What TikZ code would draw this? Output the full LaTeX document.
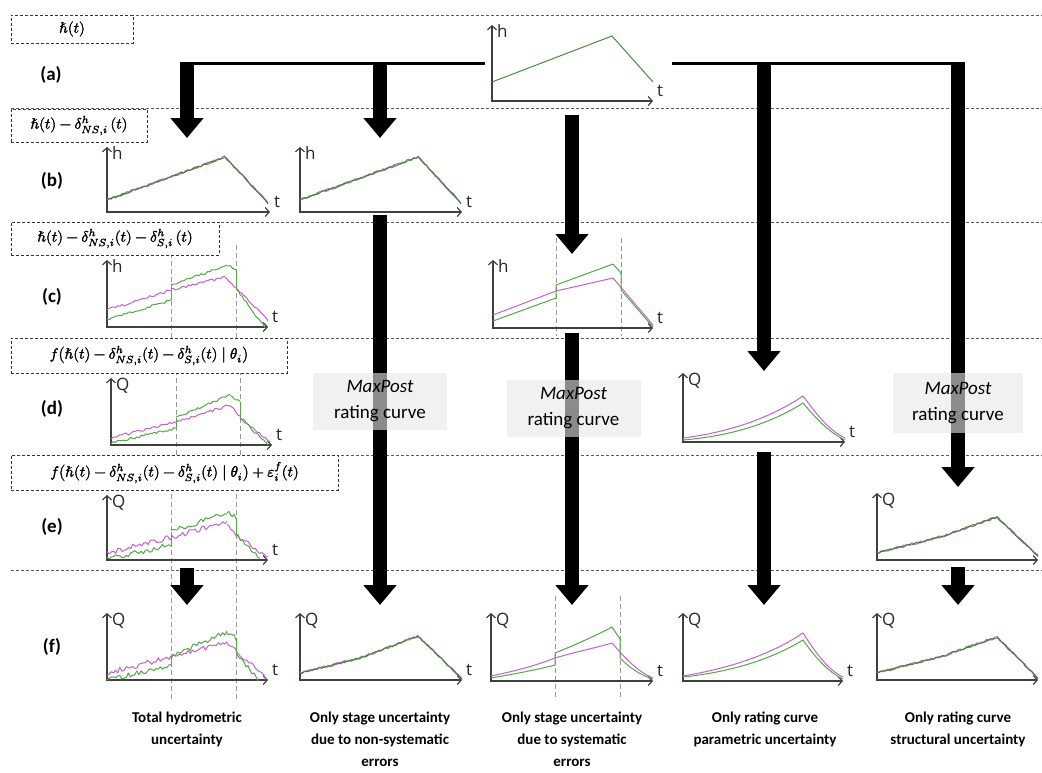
\documentclass[tikz,border=0pt]{standalone}
\usepackage{amsmath}
\usepackage{graphicx}
\usepackage{fontspec}
\usepackage{unicode-math}
\setmathfont{Latin Modern Math}
\setmathfont{Latin Modern Math}[version=heavy,FakeBold=2.2]
\usetikzlibrary{arrows.meta}
\newfontfamily\calfont{Carlito}
\newfontfamily\axfont{Open Sans}
\definecolor{cgreen}{RGB}{84,168,70}
\definecolor{cmag}{RGB}{198,96,204}
\definecolor{cdark}{RGB}{85,100,78}
\definecolor{agreen}{RGB}{72,140,60}
\definecolor{axcol}{RGB}{64,64,64}
\definecolor{sepcol}{RGB}{90,90,90}
\definecolor{vdcol}{RGB}{150,150,150}

\newcommand{\plotax}[6]{% name, ox, oy, topy, endx, ylabel
  \draw[axis] (#2,#4) -- (#2,#3) -- (#5,#3);
  \node[axlab] (#1y) at (#2+5,#4+12) {#6};
  \node[axlab] (#1t) at (#5+4,#3-5) {t};
}
\newcommand{\plotaxnt}[6]{% no t label
  \draw[axis] (#2,#4) -- (#2,#3) -- (#5,#3);
  \node[axlab] (#1y) at (#2+5,#4+12) {#6};
}
% noisy straight segment: x1 y1 x2 y2 amplitude style
\newcommand{\nseg}[6]{%
  \pgfmathtruncatemacro\nsmp{abs(#3-#1)/2.2+2}%
  \draw[#6] plot[domain=#1:#3,samples=\nsmp] (\x,{#2+(\x-#1)*(#4-#2)/(#3-#1)+#5*rand});}
% overlapping green/magenta noisy segment
\newcommand{\ovseg}[4]{%
  \nseg{#1}{#2}{#3}{#4}{1.2}{mS}\nseg{#1}{#2}{#3}{#4}{1.2}{gS}\nseg{#1}{#2}{#3}{#4}{0.9}{dS}}
\newcommand{\fml}[1]{\scalebox{1.5}{\mathversion{heavy}$#1$}}

\begin{document}
\begin{tikzpicture}[x=1pt,y=-1pt,
  sep/.style={draw=sepcol,line width=0.7pt,dash pattern=on 3pt off 2pt},
  vdash/.style={draw=vdcol,line width=1pt,dash pattern=on 5pt off 3pt},
  lbox/.style={draw=black!80,line width=0.7pt,dash pattern=on 3pt off 2pt,fill=white,inner sep=0pt},
  rowlab/.style={font=\calfont\bfseries\fontsize{19}{22}\selectfont},
  caplab/.style={font=\calfont\bfseries\fontsize{15}{22}\selectfont,align=center,anchor=north},
  axis/.style={draw=axcol,line width=1.2pt,{Straight Barb[length=4pt,width=9pt]}-{Straight Barb[length=4pt,width=9pt]}},
  axlab/.style={font=\axfont\fontsize{17}{17}\selectfont,anchor=base west,inner sep=0pt,text=black!85},
  gS/.style={draw=cgreen,line width=1pt,line join=round},
  mS/.style={draw=cmag,line width=1pt,line join=round},
  dS/.style={draw=cdark,line width=0.6pt,line join=round},
  bigarrow/.style={draw=black,line width=14pt,-{Triangle[length=20pt,width=32pt]}},
  mpbox/.style={fill=gray!17,fill opacity=0.6,text opacity=1,minimum width=134pt,minimum height=57pt,inner sep=0pt,align=center,font=\calfont\fontsize{19}{26}\selectfont}
]
\pgfmathsetseed{11}
\useasboundingbox (0,0) rectangle (1042,772);
\fill[white] (0,0) rectangle (1042,772);

% horizontal separators
\foreach \yy/\nm in {15/h0,108/h1,222/h2,338/h3,455/h4,570/h5}{
  \coordinate (\nm l) at (11,\yy); \coordinate (\nm r) at (1042,\yy);
  \draw[sep] (\nm l) -- (\nm r);}

% vertical dashed lines
\coordinate (v1a) at (171,245); \coordinate (v1b) at (171,338);
\coordinate (v2a) at (236,245); \coordinate (v2b) at (236,338);
\draw[vdash] (v1a) -- (v1b); \draw[vdash] (v2a) -- (v2b);
\coordinate (v3a) at (176,338); \coordinate (v3b) at (176,455);
\coordinate (v4a) at (240,338); \coordinate (v4b) at (240,455);
\draw[vdash] (v3a) -- (v3b); \draw[vdash] (v4a) -- (v4b);
\coordinate (v5a) at (171,462); \coordinate (v5b) at (171,700);
\coordinate (v6a) at (236,462); \coordinate (v6b) at (236,700);
\draw[vdash] (v5a) -- (v5b); \draw[vdash] (v6a) -- (v6b);
\coordinate (v7a) at (556,238); \coordinate (v7b) at (556,336);
\coordinate (v8a) at (621,238); \coordinate (v8b) at (621,336);
\draw[vdash] (v7a) -- (v7b); \draw[vdash] (v8a) -- (v8b);
\coordinate (v9a) at (555,596); \coordinate (v9b) at (555,700);
\coordinate (v10a) at (620,596); \coordinate (v10b) at (620,700);
\draw[vdash] (v9a) -- (v9b); \draw[vdash] (v10a) -- (v10b);

% ---- row a
\plotax{pa}{492}{101}{25}{653}{h}
\draw[agreen,line width=1pt] (492,82) -- (612,36) -- (653,82);

% ---- row b
\plotax{pb1}{107}{212}{147}{270}{h}
\ovseg{107}{200}{225}{157}\ovseg{225}{157}{268}{203}
\plotax{pb2}{300}{212}{147}{462}{h}
\ovseg{300}{200}{418}{157}\ovseg{418}{157}{461}{203}

% ---- row c
\plotax{pc1}{107}{327}{260}{268}{h}
\nseg{107}{310}{171}{290}{1.3}{mS}\nseg{171}{290}{225}{277}{1.3}{mS}
\nseg{225}{277}{236}{288}{1.3}{mS}\nseg{236}{288}{268}{320}{1.3}{mS}
\nseg{107}{320}{171}{300}{1.3}{gS}
\draw[gS] (171,300) -- (171,285);
\nseg{171}{285}{227}{265}{1.3}{gS}\nseg{227}{265}{236}{269}{1.3}{gS}
\draw[gS] (236,269) -- (236,288);
\nseg{236}{288}{265}{328}{1.3}{gS}

\plotax{pc3}{493}{328}{260}{653}{h}
\draw[mS] (493,315) -- (556,291) -- (613,278) -- (653,325);
\draw[gS] (493,321) -- (556,298) -- (556,285) -- (613,264) -- (621,273) -- (621,290) -- (653,327);

% ---- row d
\plotax{pd1}{111}{445}{378}{272}{Q}
\nseg{111}{438}{176}{422}{1.3}{mS}\nseg{176}{422}{230}{405}{1.3}{mS}
\nseg{230}{405}{240}{417}{1.3}{mS}\nseg{240}{417}{270}{442}{1.3}{mS}
\nseg{111}{443}{176}{428}{1.3}{gS}
\draw[gS] (176,428) -- (176,418);
\nseg{176}{418}{230}{395}{1.3}{gS}\nseg{230}{395}{240}{402}{1.3}{gS}
\draw[gS] (240,402) -- (240,418);
\nseg{240}{418}{268}{444}{1.3}{gS}

\plotax{pd4}{683}{442}{373}{845}{Q}
\draw[mS] (683,438) .. controls (730,432) and (770,418) .. (803,396) .. controls (815,412) and (828,430) .. (845,438);
\draw[gS] (683,440) .. controls (730,436) and (770,424) .. (803,403) .. controls (815,417) and (828,432) .. (845,440);

% ---- row e
\plotax{pe1}{107}{560}{495}{268}{Q}
\nseg{107}{553}{172}{537}{2.6}{mS}\nseg{172}{537}{227}{522}{2.6}{mS}
\nseg{227}{522}{236}{535}{2.6}{mS}\nseg{236}{535}{268}{557}{2.6}{mS}
\nseg{107}{559}{171}{545}{2.6}{gS}
\draw[gS] (171,545) -- (171,532);
\nseg{171}{532}{227}{512}{2.6}{gS}\nseg{227}{512}{236}{518}{2.6}{gS}
\draw[gS] (236,518) -- (236,535);
\nseg{236}{535}{260}{559}{2.6}{gS}

\plotaxnt{pe5}{877}{560}{493}{1038}{Q}
\ovseg{877}{553}{940}{537}\ovseg{940}{537}{997}{517}\ovseg{997}{517}{1038}{556}

% ---- row f
\plotax{pf1}{107}{680}{613}{268}{Q}
\nseg{107}{673}{171}{657}{2.6}{mS}\nseg{171}{657}{227}{642}{2.6}{mS}
\nseg{227}{642}{236}{652}{2.6}{mS}\nseg{236}{652}{266}{677}{2.6}{mS}
\nseg{107}{679}{171}{667}{2.6}{gS}
\draw[gS] (171,667) -- (171,657);
\nseg{171}{657}{227}{632}{2.6}{gS}\nseg{227}{632}{236}{638}{2.6}{gS}
\draw[gS] (236,638) -- (236,653);
\nseg{236}{653}{258}{679}{2.6}{gS}

\plotax{pf2}{300}{680}{613}{462}{Q}
\ovseg{300}{673}{360}{658}\ovseg{360}{658}{418}{636}\ovseg{418}{636}{462}{679}

\plotax{pf3}{491}{681}{613}{653}{Q}
\draw[mS] (491,676) .. controls (520,670) and (540,664) .. (555,658) .. controls (575,652) and (595,648) .. (612,643) .. controls (625,658) and (638,672) .. (653,678);
\draw[gS] (491,678) .. controls (520,673) and (540,669) .. (555,665) -- (555,653) .. controls (575,645) and (595,636) .. (612,627) -- (620,639) -- (620,658) .. controls (630,668) and (640,675) .. (653,679);

\plotax{pf4}{683}{681}{613}{843}{Q}
\draw[mS] (683,676) .. controls (730,668) and (770,655) .. (803,633) .. controls (815,652) and (828,670) .. (843,677);
\draw[gS] (683,677) .. controls (730,672) and (770,660) .. (803,640) .. controls (815,657) and (828,672) .. (843,679);

\plotaxnt{pf5}{877}{680}{613}{1038}{Q}
\ovseg{877}{673}{940}{657}\ovseg{940}{657}{997}{637}\ovseg{997}{637}{1038}{678}

% ---- connectors
\coordinate (hl1) at (180,63.5); \coordinate (hl2) at (485,63.5);
\coordinate (hl3) at (672,63.5); \coordinate (hl4) at (965,63.5);
\draw[black,line width=3.5pt] (hl1) -- (hl2);
\draw[black,line width=3.5pt] (hl3) -- (hl4);
\foreach \nm/\xx/\ya/\yb in {A1/187/62/138, A2/380/62/138, A3/572/115/254, A4/764/62/371,
  A5/958/62/487, A6/380/215/605, A7/572/333/605, A8/764/452/605, A9/958/567/605, A10/187/568/605}{
  \coordinate (\nm s) at (\xx,\ya); \coordinate (\nm e) at (\xx,\yb);
  \draw[bigarrow] (\nm s) -- (\nm e);}

% ---- MaxPost boxes
\node[mpbox] (mp2) at (380,401.5) {\textit{MaxPost}\\rating curve};
\node[mpbox] (mp3) at (573.5,408.5) {\textit{MaxPost}\\rating curve};
\node[mpbox,minimum width=130pt,minimum height=60pt] (mp5) at (958,403) {\textit{MaxPost}\\rating curve};

% ---- formula boxes
\node[lbox,minimum width=122pt,minimum height=28pt] (fa) at (72,29) {\fml{\hbar(t)}};
\node[lbox,minimum width=136pt,minimum height=33pt] (fb) at (79,125.5) {\fml{\hbar(t)-\delta^{h}_{NS,i}\,(t)}};
\node[lbox,minimum width=208pt,minimum height=33pt] (fc) at (115,238.5) {\fml{\hbar(t)-\delta^{h}_{NS,i}(t)-\delta^{h}_{S,i}\,(t)}};
\node[lbox,minimum width=276pt,minimum height=35pt] (fd) at (149,355.5) {\fml{f\big(\hbar(t)-\delta^{h}_{NS,i}(t)-\delta^{h}_{S,i}(t)\mid\theta_i\big)}};
\node[lbox,minimum width=327pt,minimum height=35pt] (fe) at (174.5,472.5) {\fml{f\big(\hbar(t)-\delta^{h}_{NS,i}(t)-\delta^{h}_{S,i}(t)\mid\theta_i\big)+\varepsilon^{f}_{i}(t)}};

% ---- row labels
\node[rowlab] (ra) at (51,75) {(a)};
\node[rowlab] (rb) at (52,181) {(b)};
\node[rowlab] (rc) at (52,297) {(c)};
\node[rowlab] (rd) at (52,409) {(d)};
\node[rowlab] (re) at (52,527) {(e)};
\node[rowlab] (rf) at (52,647) {(f)};

% ---- captions
\node[caplab] (c1) at (187,708) {Total hydrometric\\uncertainty};
\node[caplab] (c2) at (380,708) {Only stage uncertainty\\due to non-systematic\\errors};
\node[caplab] (c3) at (572,708) {Only stage uncertainty\\due to systematic\\errors};
\node[caplab] (c4) at (765,708) {Only rating curve\\parametric uncertainty};
\node[caplab] (c5) at (958,708) {Only rating curve\\structural uncertainty};
\end{tikzpicture}
\end{document}
